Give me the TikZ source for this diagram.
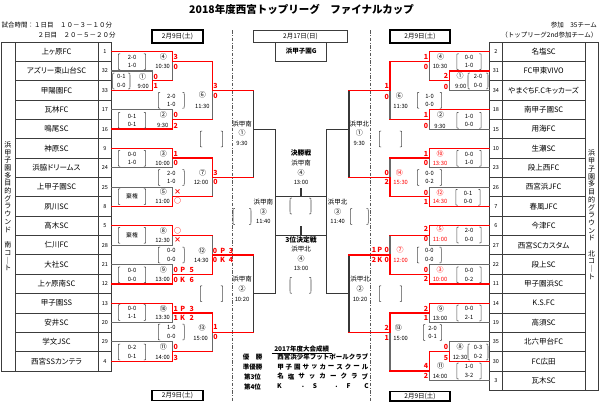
\documentclass[tikz,border=0pt]{standalone}
\usepackage{fontspec}
\setmainfont{Noto Sans CJK JP}
\newfontfamily\pjfont{Noto Sans CJK JP}[RawFeature={+palt}]
\usetikzlibrary{calc}
\definecolor{wred}{RGB}{255,0,0}
\definecolor{lgray}{RGB}{105,105,105}
\definecolor{dline}{RGB}{55,55,55}
\definecolor{tline}{RGB}{60,60,60}
\newcommand\hseg[4]{\draw[#4] (#2,{ky(#1)}) -- (#3,{ky(#1)});}
\newcommand\vseg[4]{\draw[#4] (#1,{ky(#2)}) -- (#1,{ky(#3)});}
\newcommand\sbr[5]{%
  \draw[brk] ({#1-#3+1.8},{#2-8}) .. controls ({#1-#3},{#2-8}) .. ({#1-#3},{#2-5.5}) -- ({#1-#3},{#2+5.5}) .. controls ({#1-#3},{#2+8}) .. ({#1-#3+1.8},{#2+8});
  \draw[brk] ({#1+#3-1.8},{#2-8}) .. controls ({#1+#3},{#2-8}) .. ({#1+#3},{#2-5.5}) -- ({#1+#3},{#2+5.5}) .. controls ({#1+#3},{#2+8}) .. ({#1+#3-1.8},{#2+8});
  \node[brt] at (#1,{#2-4.2}) {#4};
  \node[brt] at (#1,{#2+4.2}) {#5};}
\begin{document}
\begin{tikzpicture}[x=1pt,y=-1pt,
  declare function={ky(\k)=42+\k*9.675;},
  win/.style={draw=wred,line width=1.3pt,line cap=rect},
  lose/.style={draw=lgray,line width=1.1pt,line cap=rect},
  fut/.style={draw=dline,line width=1.1pt,line cap=rect},
  tbl/.style={draw=tline,line width=0.8pt},
  brk/.style={draw=black!70,line width=0.55pt},
  tname/.style={font=\pjfont\fontsize{7.5}{8}\selectfont,inner sep=0pt},
  tnum/.style={font=\fontsize{5.5}{6}\selectfont,inner sep=0pt},
  scr/.style={font=\bfseries\fontsize{7}{7}\selectfont,text=wred,inner sep=0pt},
  mno/.style={font=\fontsize{7}{7}\selectfont,inner sep=0pt},
  mtm/.style={font=\fontsize{5.8}{6}\selectfont,inner sep=0pt},
  brt/.style={font=\fontsize{5.8}{6}\selectfont,inner sep=0pt},
  small/.style={font=\fontsize{6.5}{7}\selectfont,inner sep=0pt},
  vch/.style={font=\fontsize{7}{7}\selectfont,inner sep=0pt},
  res/.style={font=\bfseries\fontsize{6.5}{7}\selectfont,inner sep=0pt},
  datebox/.style={draw=black,line width=1.2pt,inner sep=0pt},
  dashdot/.style={draw=black!65,line width=0.8pt,dash pattern=on 3.5pt off 1.5pt on 1pt off 1.5pt}
]
\useasboundingbox (0,0) rectangle (600,402);
\fill[white] (0,0) rectangle (600,402);
% ---------- header ----------
\node[font=\bfseries\fontsize{10.5}{11}\selectfont,inner sep=0pt] (title) at (301.5,9.5) {2018年度西宮トップリーグ　ファイナルカップ};
\node[small,anchor=west] (h1) at (1.5,25) {試合時間：１日目　１０－３－１０分};
\node[small,anchor=west] (h2) at (37.5,35) {２日目　２０－５－２０分};
\node[small,anchor=east] (h3) at (597,25) {参加　35チーム};
\node[small,anchor=east] (h4) at (597.5,35) {（トップリーグ2nd参加チーム）};
% date boxes
\draw[datebox] (152,30) rectangle (203,43); \node[small] (d1) at (177.5,36.5) {2月9日(土)};
\draw[datebox] (390,30) rectangle (450,43); \node[small] (d2) at (420,36.5) {2月9日(土)};
\draw[datebox] (152,390.5) rectangle (203,400.5); \node[small] (d3) at (177.5,395.5) {2月9日(土)};
\draw[datebox] (390,391.5) rectangle (450,401); \node[small] (d4) at (420,396.2) {2月9日(土)};
\draw[tbl,line width=1pt] (253.3,30) rectangle (347.7,42); \node[small] (d5) at (300.5,36) {2月17日(日)};
\draw[tbl,line width=1pt] (275.7,42) rectangle (326.7,61); \node[small,font=\bfseries\fontsize{6.5}{7}\selectfont] (g) at (301.2,51.5) {浜甲子園G};
% dash-dot separators
\draw[dashdot] (232,30) -- (232,402);
\draw[dashdot] (370,30) -- (370,402);
% ---------- tables ----------
\draw[tbl] (1,42) rectangle (111.7,{ky(34)});
\draw[tbl] (15,42) -- (15,{ky(34)});
\draw[tbl] (98,42) -- (98,{ky(34)});
\foreach \i in {1,...,16} {\draw[tbl] (15,{ky(2*\i)}) -- (111.7,{ky(2*\i)});}
\foreach \n/\m [count=\i] in {上ヶ原FC/1, アズリー東山台SC/32, 甲陽園FC/33, 瓦林FC/17, 鳴尾SC/16, 神原SC/9, 浜脇ドリームス/24, 上甲子園SC/25, 夙川SC/8, 高木SC/5, 仁川FC/28, 大社SC/21, 上ヶ原南SC/12, 甲子園SS/13, 安井SC/20, 学文JSC/29, 西宮SSカンテラ/4}
 {\node[tname] (lt\i) at (56.5,{ky(2*\i-1)}) {\n}; \node[tnum] (ln\i) at (104.85,{ky(2*\i-1)}) {\m};}
\draw[tbl] (489.3,42) rectangle (598.3,{ky(36)});
\draw[tbl] (502.3,42) -- (502.3,{ky(36)});
\draw[tbl] (585,42) -- (585,{ky(36)});
\foreach \i in {1,...,17} {\draw[tbl] (489.3,{ky(2*\i)}) -- (585,{ky(2*\i)});}
\foreach \n/\m [count=\i] in {名塩SC/2, FC甲東VIVO/31, やまぐちF.Cキッカーズ/34, 南甲子園SC/18, 用海FC/15, 生瀬SC/10, 段上西FC/23, 西宮浜JFC/26, 春風JFC/7, 今津FC/6, 西宮SCカスタム/27, 段上SC/22, 甲子園浜SC/11, K.S.FC/14, 高須SC/19, 北六甲台FC/35, FC広田/30, 瓦木SC/3}
 {\node[tname] (rt\i) at (543.65,{ky(2*\i-1)}) {\n}; \node[tnum] (rn\i) at (495.8,{ky(2*\i-1)}) {\m};}
\foreach \c [count=\i] in {浜,甲,子,園,多,目,的,グ,ラ,ウ,ン,ド,{},南,コ,｜,ト}
 {\node[vch] (lv\i) at (8,{145+(\i-1)*7.69}) {\c};}
\foreach \c [count=\i] in {浜,甲,子,園,多,目,的,グ,ラ,ウ,ン,ド,{},北,コ,｜,ト}
 {\node[vch] (rv\i) at (591.7,{153.3+(\i-1)*7.73}) {\c};}
% ---------- loser (gray) lines ----------
\hseg{3}{111.7}{152.7}{lose}
\foreach \k in {7,13,15,21,23,29,31} {\hseg{\k}{111.7}{172.7}{lose}}
\vseg{152.7}{3}{4}{lose}
\vseg{172.7}{2}{4}{lose} \vseg{172.7}{7}{8}{lose} \vseg{212.3}{5}{8}{lose}
\vseg{172.7}{12}{13}{lose} \vseg{172.7}{15}{16}{lose} \vseg{212.3}{14}{16}{lose}
\vseg{172.7}{20}{21}{lose} \vseg{172.7}{23}{24}{lose} \vseg{212.3}{20}{22}{lose}
\vseg{172.7}{28}{29}{lose} \vseg{172.7}{31}{32}{lose} \vseg{212.3}{30}{32}{lose}
\hseg{5}{489.3}{449.3}{lose} \hseg{31}{489.3}{449.3}{lose}
\foreach \k in {9,13,15,21,23,29,35} {\hseg{\k}{489.3}{429.3}{lose}}
\vseg{449.3}{4}{5}{lose} \vseg{429.3}{2}{4}{lose} \vseg{429.3}{8}{9}{lose} \vseg{390}{5}{8}{lose}
\vseg{429.3}{12}{13}{lose} \vseg{429.3}{15}{16}{lose} \vseg{390}{12}{14}{lose}
\vseg{429.3}{20}{21}{lose} \vseg{429.3}{23}{24}{lose} \vseg{390}{20}{22}{lose}
\vseg{429.3}{28}{29}{lose} \vseg{449.3}{31}{32}{lose} \vseg{429.3}{34}{35}{lose} \vseg{390}{30}{34}{lose}
% ---------- future rounds ----------
\vseg{253.3}{5}{14}{fut} \vseg{253.3}{22}{30}{fut}
\hseg{9}{253.3}{275.7}{fut} \hseg{26}{253.3}{275.7}{fut}
\vseg{275.7}{9}{26}{fut}
\hseg{16}{275.7}{326.7}{fut} \hseg{20}{275.7}{326.7}{fut}
\vseg{326.7}{9}{26}{fut}
\vseg{349}{5}{14}{fut} \vseg{349}{22}{30}{fut}
\hseg{9}{349}{326.7}{fut} \hseg{26}{349}{326.7}{fut}
\draw[fut] (301,{ky(16)-8.5}) -- (301,{ky(16)});
\draw[fut] (301,{ky(20)-8.8}) -- (301,{ky(20)});
% ---------- winner (red) lines ----------
\hseg{5}{111.7}{152.7}{win}
\foreach \k in {1,9,11,17,19,25,27,33} {\hseg{\k}{111.7}{172.7}{win}}
\vseg{152.7}{4}{5}{win} \hseg{4}{152.7}{172.7}{win}
\vseg{172.7}{1}{2}{win} \vseg{172.7}{8}{9}{win} \vseg{212.3}{2}{5}{win}
\vseg{172.7}{11}{12}{win} \vseg{172.7}{16}{17}{win} \vseg{212.3}{12}{14}{win}
\vseg{172.7}{19}{20}{win} \vseg{172.7}{24}{25}{win} \vseg{212.3}{22}{24}{win}
\vseg{172.7}{27}{28}{win} \vseg{172.7}{32}{33}{win} \vseg{212.3}{28}{30}{win}
\foreach \k in {2,8,12,16,20,24,28,32} {\hseg{\k}{172.7}{212.3}{win}}
\foreach \k in {5,14,22,30} {\hseg{\k}{212.3}{253.3}{win}}
\hseg{3}{489.3}{449.3}{win} \hseg{33}{489.3}{449.3}{win}
\foreach \k in {1,7,11,17,19,25,27} {\hseg{\k}{489.3}{429.3}{win}}
\vseg{449.3}{3}{4}{win} \hseg{4}{449.3}{429.3}{win}
\vseg{449.3}{32}{33}{win} \hseg{32}{449.3}{429.3}{win}
\vseg{429.3}{1}{2}{win} \vseg{429.3}{7}{8}{win} \vseg{390}{2}{5}{win}
\vseg{429.3}{11}{12}{win} \vseg{429.3}{16}{17}{win} \vseg{390}{14}{16}{win}
\vseg{429.3}{19}{20}{win} \vseg{429.3}{24}{25}{win} \vseg{390}{22}{24}{win}
\vseg{429.3}{27}{28}{win} \vseg{429.3}{32}{34}{win} \vseg{390}{28}{30}{win}
\foreach \k in {2,8,12,16,20,24,28,34} {\hseg{\k}{429.3}{390}{win}}
\foreach \k in {5,14,22,30} {\hseg{\k}{390}{349}{win}}
% ---------- left scores / labels / brackets ----------
\sbr{121.3}{81}{8.7}{0-1}{0-0}
\node[mno] at (142.7,76.7) {①}; \node[mtm] at (143.3,86) {9:00};
\node[scr] at (155.7,76.7) {0}; \node[scr] at (155.7,86) {1};
\sbr{132}{61.7}{13.7}{2-0}{1-0}
\node[mno] at (163.3,56.7) {④}; \node[mtm] at (162.7,66.7) {10:30};
\node[scr] at (175.7,56.7) {3}; \node[scr] at (175.7,66.7) {0};
\sbr{132}{120.3}{13.7}{0-1}{0-1}
\node[mno] at (163.3,115) {②}; \node[mtm] at (162.7,125.3) {9:30};
\node[scr] at (175.7,115) {0}; \node[scr] at (175.7,126) {2};
\sbr{171.3}{100.3}{13}{2-0}{1-0}
\node[mno] at (202.3,95) {⑥}; \node[mtm] at (202.3,106) {11:30};
\node[scr] at (215.5,86) {3}; \node[scr] at (215.5,96) {0};
\sbr{132}{158.3}{13.7}{0-0}{1-0}
\node[mno] at (163.3,154) {③}; \node[mtm] at (162.7,163.3) {10:00};
\node[scr] at (175.7,154) {1}; \node[scr] at (175.7,163.3) {0};
\sbr{171.3}{177.5}{13}{2-0}{1-0}
\node[mno] at (202.7,173.3) {⑦}; \node[mtm] at (201,182.3) {12:00};
\node[scr] at (215.5,173.3) {3}; \node[scr] at (215.5,182.3) {0};
\sbr{132}{196.7}{13.7}{}{} \node[brt] at (132,196.7) {棄権};
\node[mno] at (163.3,192.3) {⑤}; \node[mtm] at (162.7,201.7) {11:00};
\node[scr] at (177.7,192.3) {×}; \node[scr] at (177.7,201.3) {○};
\sbr{132}{235.3}{13.7}{}{} \node[brt] at (132,235.3) {棄権};
\node[mno] at (163.3,230.7) {⑧}; \node[mtm] at (162.7,240) {12:30};
\node[scr] at (177.7,230.7) {○}; \node[scr] at (177.7,240) {×};
\sbr{132}{274.8}{13.7}{0-0}{0-0}
\node[mno] at (163.3,270.3) {⑨}; \node[mtm] at (162.7,279.3) {13:00};
\node[scr] at (175.7,270.3) {0}; \node[scr] at (182.7,270.3) {P}; \node[scr] at (191.7,270.3) {5};
\node[scr] at (175.7,279.5) {0}; \node[scr] at (182.7,279.5) {K}; \node[scr] at (191.7,279.5) {6};
\sbr{171.3}{255}{13}{0-0}{0-0}
\node[mno] at (202,250.5) {⑫}; \node[mtm] at (201.3,260) {14:30};
\node[scr] at (215,250.7) {0}; \node[scr] at (222.7,250.7) {P}; \node[scr] at (231,250.7) {3};
\node[scr] at (215,260) {0}; \node[scr] at (222.7,260) {K}; \node[scr] at (231,260) {4};
\sbr{132}{312.5}{13.7}{0-0}{1-1}
\node[mno] at (163.3,308.7) {⑩}; \node[mtm] at (162.7,317.7) {13:30};
\node[scr] at (175.7,308.7) {1}; \node[scr] at (182.7,308.7) {P}; \node[scr] at (191.7,308.7) {3};
\node[scr] at (175.7,317.9) {1}; \node[scr] at (182.7,317.9) {K}; \node[scr] at (191.7,317.9) {2};
\sbr{132}{352}{13.7}{0-2}{0-1}
\node[mno] at (163.3,347) {⑪}; \node[mtm] at (162.7,357.7) {14:00};
\node[scr] at (175.7,347) {0}; \node[scr] at (175.7,357.7) {3};
\sbr{171.3}{332}{13}{1-0}{0-0}
\node[mno] at (202,327.7) {⑬}; \node[mtm] at (200.7,338) {15:00};
\node[scr] at (215.5,327) {1}; \node[scr] at (215.5,337) {0};
% ---------- centre ----------
\sbr{211.5}{139}{11.2}{}{}
\node[small] at (242,124.3) {浜甲南}; \node[mno] at (242,133.3) {①}; \node[mtm] at (242,143.3) {9:30};
\sbr{211.5}{293.7}{11.2}{}{}
\node[small] at (242,278.7) {浜甲南}; \node[mno] at (242,288.7) {②}; \node[mtm] at (242,299.3) {10:20};
\sbr{242}{216.5}{9}{}{}
\node[small] at (263.3,201.7) {浜甲南}; \node[mno] at (263.3,211.7) {③}; \node[mtm] at (263.3,221.7) {11:40};
\node[small,font=\bfseries\fontsize{6.8}{7}\selectfont] at (301,153.3) {決勝戦};
\node[small] at (301,163.5) {浜甲南}; \node[mno] at (301,173.3) {④}; \node[mtm] at (301,182.7) {13:00};
\sbr{300.5}{206}{10.5}{}{}
\node[small,font=\bfseries\fontsize{6.8}{7}\selectfont] at (301,239.5) {3位決定戦};
\node[small] at (301,249.5) {浜甲北}; \node[mno] at (301,258.5) {④}; \node[mtm] at (301,268) {13:00};
\sbr{300.5}{285.3}{10.5}{}{}
\sbr{359.3}{216.5}{9}{}{}
\node[small] at (337.7,201.7) {浜甲北}; \node[mno] at (337.7,211.7) {③}; \node[mtm] at (337.7,221.7) {11:40};
\sbr{390.5}{139}{11.2}{}{}
\node[small] at (359.3,124.3) {浜甲北}; \node[mno] at (359.3,133.3) {①}; \node[mtm] at (359.3,143.3) {9:30};
\sbr{390.5}{293.7}{11.2}{}{}
\node[small] at (360,278.7) {浜甲北}; \node[mno] at (360,288.7) {②}; \node[mtm] at (360,299.3) {10:20};
% ---------- right scores / labels / brackets ----------
\sbr{478}{81}{10}{2-0}{0-0}
\node[mno] at (460,76) {①}; \node[mtm] at (460.7,86) {9:00};
\node[scr] at (446,76) {2}; \node[scr] at (446,87) {0};
\sbr{469}{61.7}{12.2}{0-0}{1-0}
\node[mno] at (440.7,56.7) {④}; \node[mtm] at (440,66.7) {10:30};
\node[scr] at (426,56.7) {1}; \node[scr] at (426,66.7) {0};
\sbr{469}{120.3}{12.2}{1-0}{0-0}
\node[mno] at (440.7,115) {②}; \node[mtm] at (440,126) {9:30};
\node[scr] at (426,115) {1}; \node[scr] at (426,126) {0};
\sbr{429.5}{100.3}{12.2}{1-0}{0-0}
\node[mno] at (399.3,96) {⑥}; \node[mtm] at (400.7,106) {11:30};
\node[scr] at (386.7,86) {1}; \node[scr] at (386.7,96.7) {0};
\sbr{469}{158.3}{12.2}{0-0}{1-0}
\node[mno,text=wred] at (440,154) {⑩}; \node[mtm,text=wred] at (440,163.3) {13:30};
\node[scr] at (426,154) {1}; \node[scr] at (426,163.3) {0};
\sbr{468}{197.3}{12.2}{0-1}{0-0}
\node[mno,text=wred] at (440,192.7) {⑫}; \node[mtm,text=wred] at (440,201.7) {14:30};
\node[scr] at (426,192.7) {0}; \node[scr] at (426,201.7) {1};
\sbr{429.5}{177.5}{12.2}{0-0}{0-2}
\node[mno,text=wred] at (399.3,172.7) {⑭}; \node[mtm,text=wred] at (400.7,182.3) {15:30};
\node[scr] at (386.7,172.7) {0}; \node[scr] at (386.7,182.3) {2};
\sbr{469}{235}{12.2}{2-0}{0-0}
\node[mno,text=wred] at (440,229) {⑤}; \node[mtm,text=wred] at (440,239) {11:00};
\node[scr] at (426,229) {2}; \node[scr] at (426,239) {0};
\sbr{469}{274.8}{12.2}{0-0}{0-2}
\node[mno,text=wred] at (440,270.3) {③}; \node[mtm,text=wred] at (440,279.3) {10:00};
\node[scr] at (426,270.3) {0}; \node[scr] at (426,279.3) {2};
\sbr{429.3}{255}{12}{0-0}{0-0}
\node[mno,text=wred] at (400,250) {⑦}; \node[mtm,text=wred] at (400.7,260) {12:00};
\node[scr] at (374,249.7) {1}; \node[scr] at (379.8,249.7) {P}; \node[scr] at (386.7,249.7) {0};
\node[scr] at (374,259.5) {2}; \node[scr] at (379.8,259.5) {K}; \node[scr] at (386.7,259.5) {0};
\sbr{469}{313}{12.2}{0-0}{2-1}
\node[mno] at (440.7,308.7) {⑨}; \node[mtm] at (440,318) {13:00};
\node[scr] at (426,308.7) {2}; \node[scr] at (426,318) {1};
\sbr{478}{352}{10}{0-3}{0-2}
\node[mno] at (460,347) {⑧}; \node[mtm] at (460,357.7) {12:30};
\node[scr] at (446,347) {0}; \node[scr] at (446,357.7) {5};
\sbr{469}{371}{12.2}{1-0}{3-2}
\node[mno] at (440.7,366.3) {⑪}; \node[mtm] at (440,376) {14:00};
\node[scr] at (426,366.3) {4}; \node[scr] at (426,376) {2};
\sbr{432.5}{332.5}{9.2}{2-0}{0-1}
\node[mno] at (398.3,327.7) {⑬}; \node[mtm] at (400.7,338) {15:00};
\node[scr] at (386.7,327.7) {2}; \node[scr] at (386.7,338) {1};
% ---------- last year's results ----------
\node[res] (rh) at (301.7,349) {2017年度大会成績};
\draw[black,line width=0.5pt] (271.5,353.6) -- (331.9,353.6);
\node[res] at (246,357.2) {優}; \node[res] at (259,357.2) {勝};
\node[res] at (252.5,366.8) {準優勝};
\node[res] at (252.5,376.5) {第3位};
\node[res] at (252.5,386.5) {第4位};
\node[res] at (322.8,357.2) {西宮浜少年フットボールクラブ};
\foreach \c [count=\i] in {甲,子,園,サ,ッ,カ,ー,ス,ク,ー,ル} {\node[res] at ({280.5+(\i-1)*8.45},366.8) {\c};}
\foreach \c [count=\i] in {名,塩,サ,ッ,カ,ー,ク,ラ,ブ} {\node[res] at ({280.5+(\i-1)*10.56},376.5) {\c};}
\foreach \c/\xx in {K/279.5, ./303, S/315, ./336.5, F/348.5, C/366.5} {\node[res] at (\xx,386.5) {\c};}
\end{tikzpicture}
\end{document}
